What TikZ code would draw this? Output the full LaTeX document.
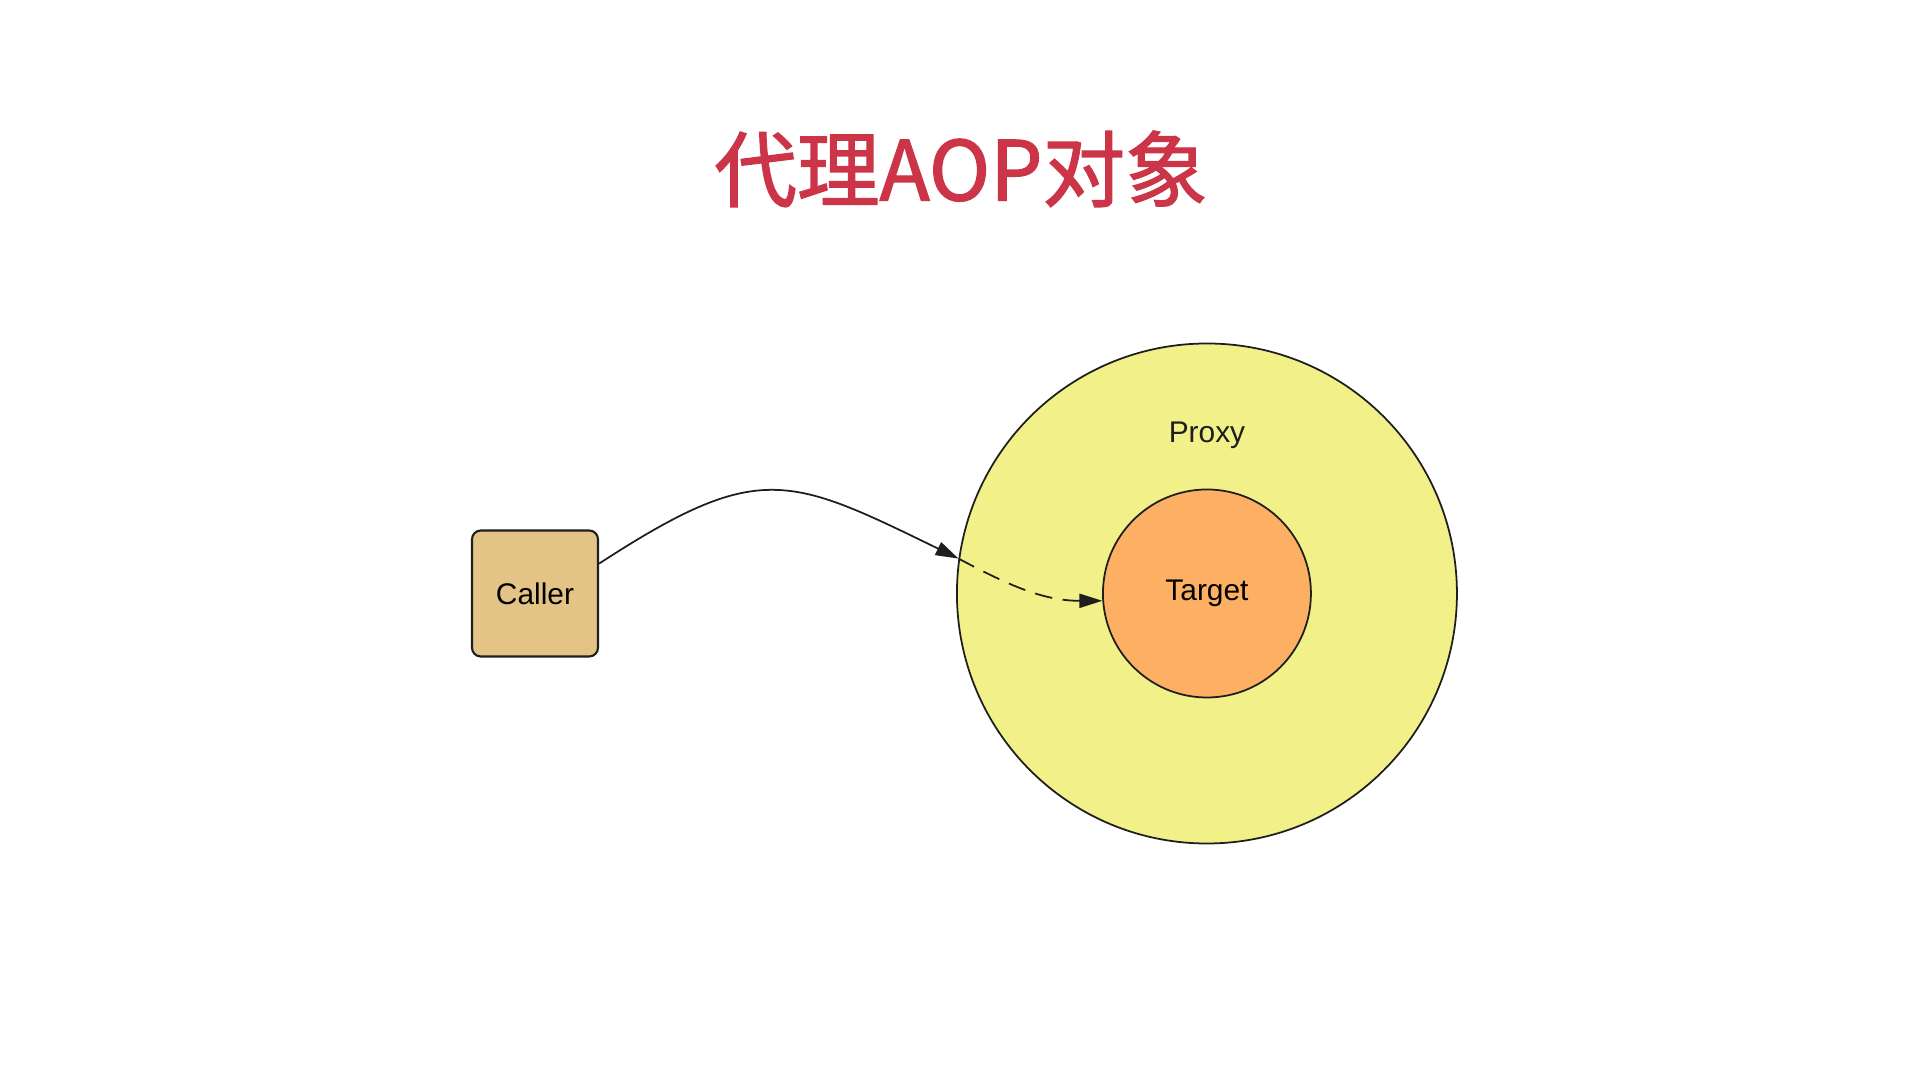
\documentclass[tikz,border=0pt]{standalone}
\usepackage{fontspec}
\setmainfont{Liberation Sans}
\newfontfamily\cjk{Noto Sans CJK SC}[FakeBold=1.6]
\usepackage{xcolor}
\usepackage{tikz}
\usetikzlibrary{arrows.meta, positioning}
\definecolor{myred}{RGB}{204,52,72}
\definecolor{mydark}{RGB}{30,30,30}
\definecolor{callerfill}{RGB}{228,195,135}
\definecolor{proxyfill}{RGB}{242,240,136}
\definecolor{targetfill}{RGB}{253,176,99}
\tikzset{
  callerbox/.style={rectangle, draw=mydark, fill=callerfill,
    minimum size=1.26cm, rounded corners=2.5pt, line width=0.6pt,
    font=\fontsize{8.5}{10}\selectfont},
  proxycirc/.style={circle, draw=mydark, fill=proxyfill,
    minimum size=5cm, inner sep=0pt, line width=0.5pt},
  targetcirc/.style={circle, draw=mydark, fill=targetfill,
    minimum size=2.08cm, inner sep=0pt, line width=0.5pt,
    font=\fontsize{8.5}{10}\selectfont},
  label/.style={font=\fontsize{8.5}{10}\selectfont, text=mydark},
  arrow/.style={-{Triangle[length=6.5pt, width=4pt]}, line width=0.5pt, color=mydark},
  dasharrow/.style={-{Triangle[length=6.5pt, width=4pt]}, line width=0.5pt, color=mydark,
    dash pattern=on 5pt off 3pt}
}
\begin{document}
\begin{tikzpicture}
  \useasboundingbox (0,0) rectangle (19.2,10.8);

  % Title
  \node[font=\cjk\fontsize{23.5}{28}\selectfont, text=myred] (title) at (9.61,9.11) {代理AOP对象};

  % Caller and proxy object
  \node[callerbox] (Caller) at (5.35,4.865) {Caller};
  \node[proxycirc, right=3.57cm of Caller] (Proxy) {};
  \node[targetcirc] (Target) at (Proxy.center) {Target};
  \node[label, above=0.27cm of Target] (proxylbl) {Proxy};

  % Call path
  \draw[arrow] (Caller.25) .. controls +(33:1.9) and +(154:1.9) .. (Proxy.172);
  \draw[dasharrow] (Proxy.172) to[out=-28, in=180] (Target.184);
\end{tikzpicture}
\end{document}
